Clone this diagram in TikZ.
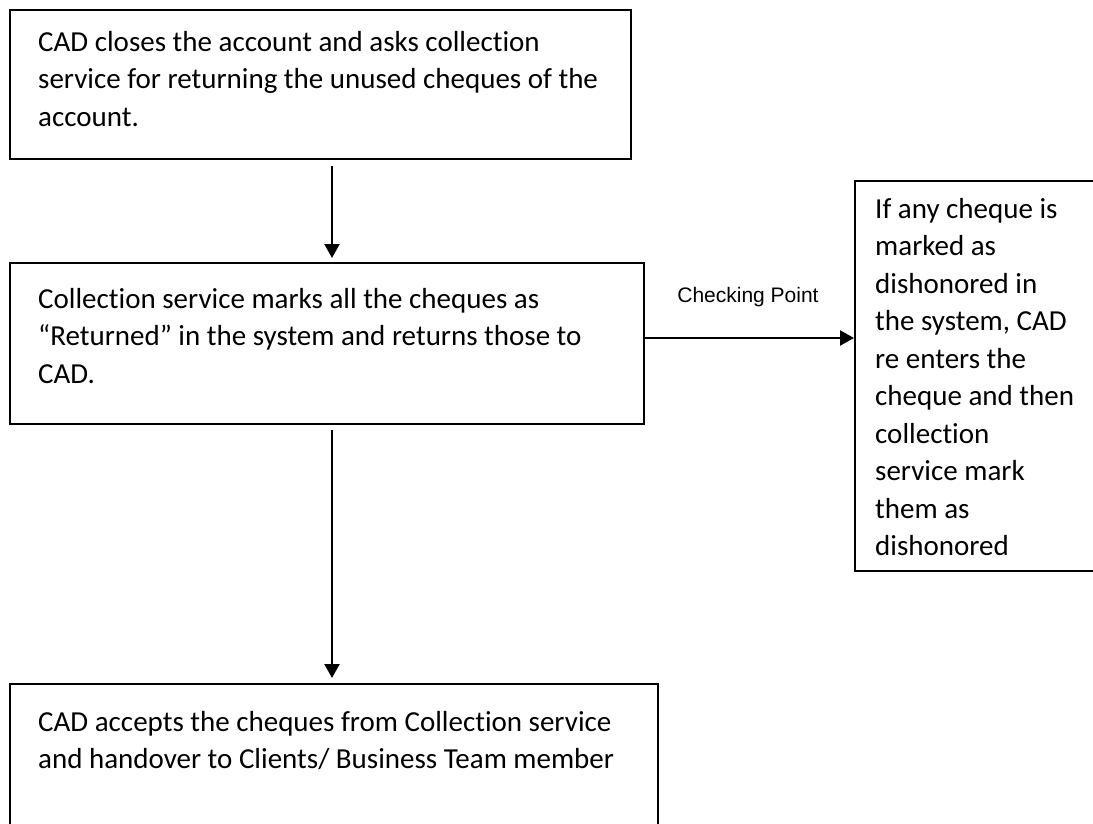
\documentclass[tikz,border=0pt]{standalone}
\usepackage{fontspec}
\setmainfont{Carlito}[Ligatures={NoCommon}]
\newfontfamily\arialfont{Liberation Sans}
\usetikzlibrary{arrows.meta}

\tikzset{
  stepbox/.style={draw=black, line width=2pt, rectangle, inner sep=0pt, anchor=north west},
  bodytext/.style={inner sep=0pt, anchor=north west, align=left,
                   font=\fontsize{29}{37.5}\selectfont},
  flowarrow/.style={draw=black, line width=2.2pt, -{Triangle[length=14pt,width=15pt]}},
  notetext/.style={inner sep=0pt, font=\arialfont\fontsize{21}{25}\selectfont}
}

\newcommand{\firstline}{\rule{0pt}{22pt}}

\begin{document}
\begin{tikzpicture}[x=1pt, y=-1pt]
  \clip (0,0) rectangle (1093,823);
  \fill[white] (0,0) rectangle (1093,823);

  % process boxes
  \node[stepbox, minimum width=621pt, minimum height=149pt] (close) at (9,9) {};
  \node[stepbox, minimum width=634pt, minimum height=161pt] (mark) at (9,262) {};
  \node[stepbox, minimum width=648pt, minimum height=220pt] (accept) at (9,683) {};
  \node[stepbox, minimum width=270pt, minimum height=390pt] (check) at (854,180) {};

  % box texts
  \node[bodytext] (closetxt) at (38,29) {\firstline CAD closes the account and asks collection\\
    service for returning the unused cheques of the\\
    account.};
  \node[bodytext] (marktxt) at (38,286) {\firstline Collection service marks all the cheques as\\
    “Returned” in the system and returns those to\\
    CAD.};
  \node[bodytext] (accepttxt) at (38,709) {\firstline CAD accepts the cheques from Collection service\\
    and handover to Clients/ Business Team member};
  \node[bodytext] (checktxt) at (875,196) {\firstline If any cheque is\\
    marked as\\
    dishonored in\\
    the system, CAD\\
    re enters the\\
    cheque and then\\
    collection\\
    service mark\\
    them as\\
    dishonored};

  % connector guides
  \coordinate (down) at (332,0);
  \coordinate (side) at (0,338);

  % connectors
  \draw[flowarrow, shorten <=6pt, shorten >=4pt] (close.south -| down) -- (mark.north -| down);
  \draw[flowarrow, shorten <=5pt, shorten >=5pt] (mark.south -| down) -- (accept.north -| down);
  \draw[flowarrow] (mark.east |- side) -- (check.west |- side);

  \node[notetext] (cp) at (748,297) {Checking Point};
\end{tikzpicture}
\end{document}
